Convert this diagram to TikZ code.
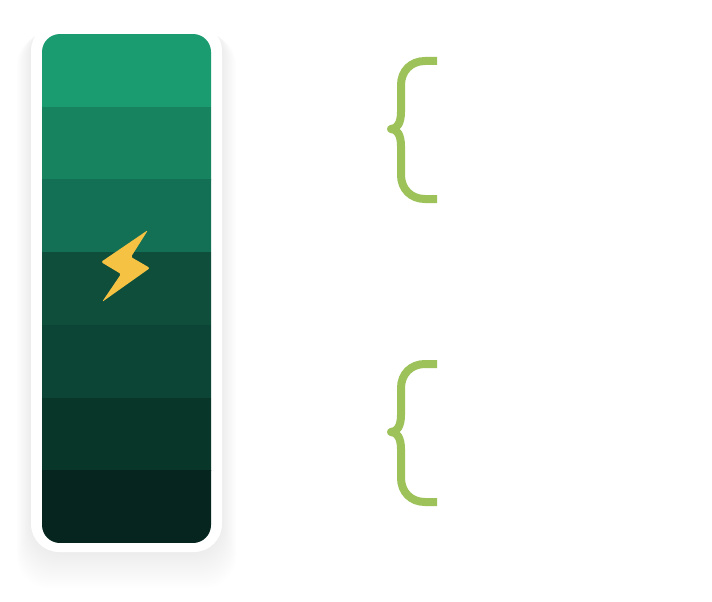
\documentclass[tikz,border=0pt]{standalone}
\usepackage{tikz}
\usetikzlibrary{positioning}

\definecolor{bandA}{HTML}{1B9B70}
\definecolor{bandB}{HTML}{18845F}
\definecolor{bandC}{HTML}{137054}
\definecolor{bandD}{HTML}{0E4E3B}
\definecolor{bandE}{HTML}{0C4536}
\definecolor{bandF}{HTML}{08372A}
\definecolor{bandG}{HTML}{05251E}
\definecolor{bolt}{HTML}{F6C244}
\definecolor{bracegreen}{HTML}{9DC25A}

\tikzset{
    brace/.style={line width=8pt, draw=bracegreen, line join=round},
    halo/.style={fill=black, fill opacity=0.005, draw=none, rounded corners=#1},
}

\begin{document}
\begin{tikzpicture}[x=1pt,y=-1pt]
    \useasboundingbox (0,0) rectangle (712,602);
    \begin{scope}   

    % soft shadow under the frame
    \foreach \g in {1,...,18}{%
        \path[halo=32pt] (31-0.8*\g,23+0.6*\g) rectangle (222+0.8*\g,552+2*\g);}

    \path[fill=white, rounded corners=28pt] (31,23) rectangle (222,552);
    
    \begin{scope}
        \clip[rounded corners=18pt] (42,34) rectangle (211,543);
        \foreach \c [count=\n from 0] in {bandA,bandB,bandC,bandD,bandE,bandF,bandG}{%
            \fill[\c] (40,34+72.714*\n) rectangle (213,34+72.714*\n+73);}
    \end{scope}
    
    \fill[bolt, rounded corners=1.5pt] (148,230) -- (101,262) -- (121,274) -- (102,302)
        -- (150,268) -- (131,257) -- cycle;
    
    \foreach \dy in {0,303}{%
        \begin{scope}[yshift=-\dy pt]
        \draw[brace] (437,61) -- (425,61) .. controls (411,61) and (401,71) .. (401,85)
            -- (401,112) .. controls (401,123) and (397,129) .. (391,129)
            .. controls (397,129) and (401,135) .. (401,146)
            -- (401,175) .. controls (401,189) and (411,199) .. (425,199) -- (437,199);
        \end{scope}}
\end{scope}
\end{tikzpicture}
\end{document}
